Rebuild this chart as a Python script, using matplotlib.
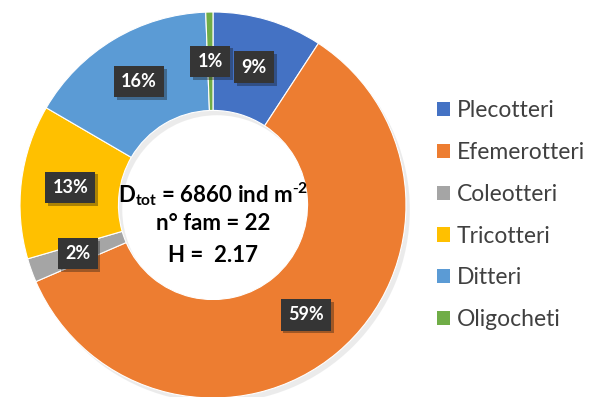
import numpy as np
import matplotlib
matplotlib.use('Agg')
import matplotlib.pyplot as plt
import matplotlib.patheffects as pe
from matplotlib.patches import Patch

plt.rcParams['font.family'] = ['Lato', 'DejaVu Sans']
plt.rcParams['mathtext.default'] = 'regular'
plt.rcParams['axes.unicode_minus'] = False

gruppi = ['Plecotteri', 'Efemerotteri', 'Coleotteri', 'Tricotteri', 'Ditteri', 'Oligocheti']
valori = [9.2, 59.3, 2.0, 12.9, 16.0, 0.6]
etichette = ['9%', '59%', '2%', '13%', '16%', '1%']
colori = ['#4472C4', '#ED7D31', '#A5A5A5', '#FFC000', '#5B9BD5', '#70AD47']

testo_centro = [r'D$_{tot}$ = 6860 ind m$^{\text{-}2}$', 'n° fam = 22', 'H =  2.17']

fig = plt.figure(figsize=(5.9, 3.97), dpi=100)
ax = fig.add_axes([0.0339, -0.0025, 0.6542, 0.9723])

spessore = 0.51
# ombra leggera dietro l'anello
ax.pie([1], radius=1.0, colors=['#d9d9d9'], startangle=90, center=(0.02, -0.025),
       wedgeprops=dict(width=spessore, edgecolor='none', alpha=0.5))
wedges, _ = ax.pie(valori, radius=1.0, colors=colori, startangle=90, counterclock=False,
                   wedgeprops=dict(width=spessore, edgecolor='white', linewidth=0.8))
ax.set_xlim(-1, 1)
ax.set_ylim(-1, 1)
ax.set_aspect('equal')
ax.axis('off')

rmed = 1 - spessore / 2
for w, lab in zip(wedges, etichette):
    ang = np.deg2rad((w.theta1 + w.theta2) / 2)
    x = rmed * np.cos(ang)
    y = rmed * np.sin(ang)
    ax.text(x, y, lab, ha='center', va='center', color='white', fontsize=13,
            fontweight='bold',
            bbox=dict(boxstyle='square,pad=0.4', facecolor='#353535', edgecolor='none',
                      path_effects=[pe.SimplePatchShadow(offset=(2, -2), alpha=0.35),
                                    pe.Normal()]))

ypos = [0.055, -0.095, -0.26]
for t, y in zip(testo_centro, ypos):
    ax.text(0, y, t, ha='center', va='center', fontsize=16, fontweight='bold', color='black')

maniglie = [Patch(facecolor=c, edgecolor='none') for c in colori]
fig.legend(maniglie, gruppi, loc='upper left', bbox_to_anchor=(0.7058, 0.80), frameon=False,
           fontsize=16.5, handlelength=0.57, handleheight=0.57, handletextpad=0.3,
           labelspacing=0.91, labelcolor='#404040')

fig.savefig('out.png', dpi=100, facecolor='white')
